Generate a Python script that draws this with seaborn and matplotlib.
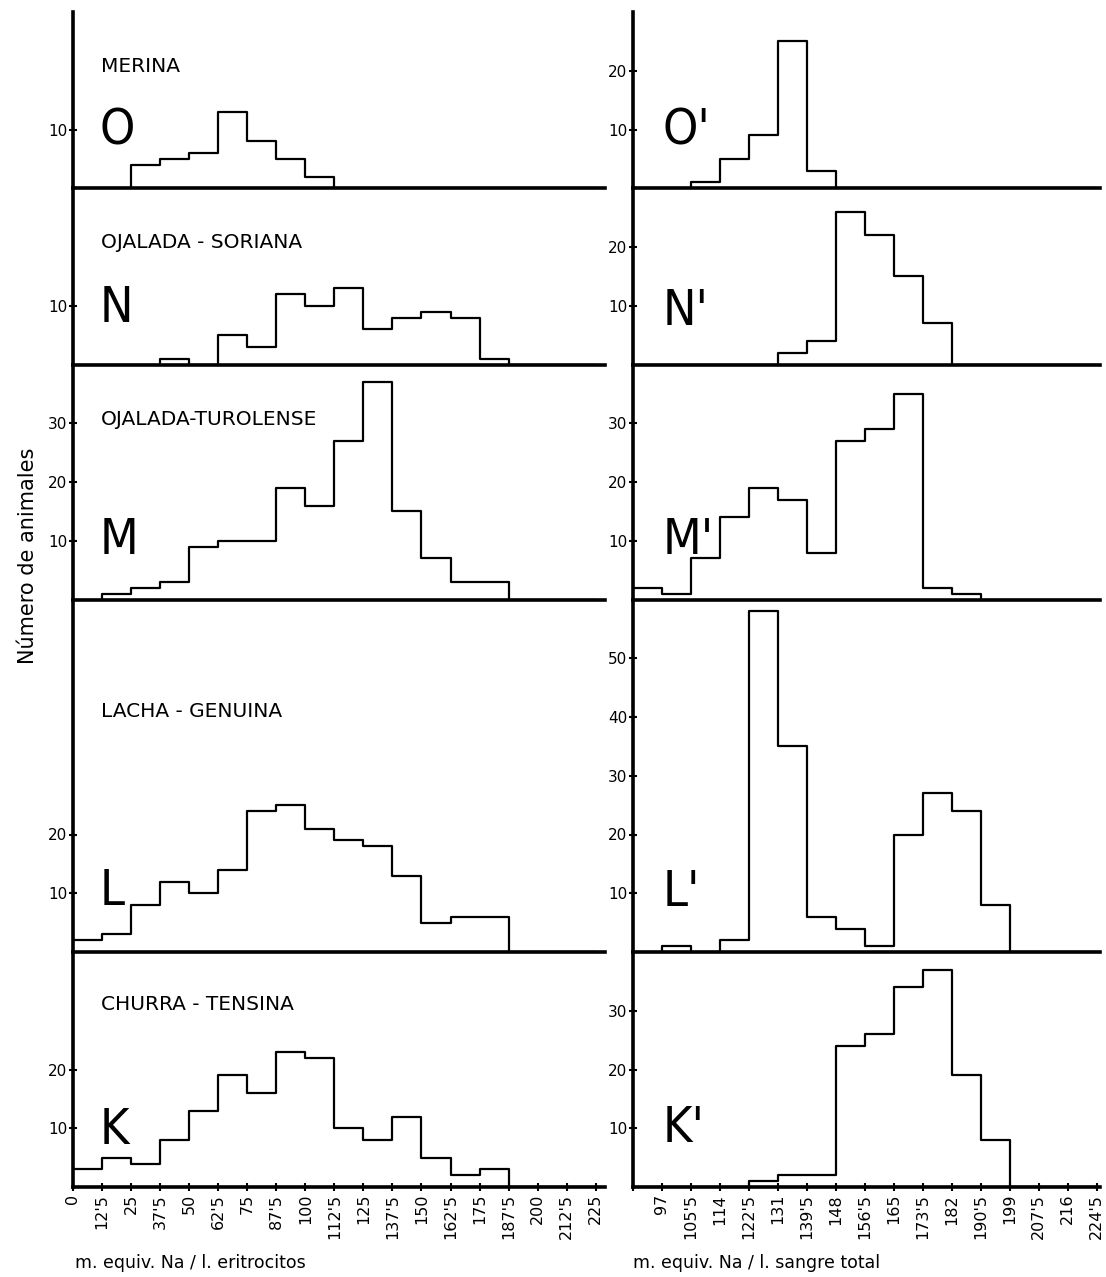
import numpy as np
import pandas as pd
import matplotlib
matplotlib.use("Agg")
import matplotlib.pyplot as plt
from matplotlib.gridspec import GridSpec
import seaborn as sns

sns.set_theme(style="white")
plt.rcParams["font.family"] = ["DejaVu Sans"]

# Class limits, sodium in red cells (m. equiv. Na / l.)
eritro_ticks = [0, 12.5, 25, 37.5, 50, 62.5, 75, 87.5, 100, 112.5, 125,
                137.5, 150, 162.5, 175, 187.5, 200, 212.5, 225]
eritro_labels = ["0", "12'5", "25", "37'5", "50", "62'5", "75", "87'5", "100",
                 "112'5", "125", "137'5", "150", "162'5", "175", "187'5",
                 "200", "212'5", "225"]

# Class limits, sodium in whole blood (m. equiv. Na / l.)
sangre_ticks = [88.5, 97, 105.5, 114, 122.5, 131, 139.5, 148, 156.5, 165,
                173.5, 182, 190.5, 199, 207.5, 216, 224.5]
sangre_labels = ["", "97", "105'5", "114", "122'5", "131", "139'5", "148",
                 "156'5", "165", "173'5", "182", "190'5", "199", "207'5",
                 "216", "224'5"]

breeds = ["MERINA", "OJALADA - SORIANA", "OJALADA-TUROLENSE",
          "LACHA - GENUINA", "CHURRA - TENSINA"]
letters = ["O", "N", "M", "L", "K"]

# Number of animals per class - erythrocytes
eritro_merina = [0, 0, 4, 5, 6, 13, 8, 5, 2, 0, 0, 0, 0, 0, 0, 0, 0, 0]
eritro_soriana = [0, 0, 0, 1, 0, 5, 3, 12, 10, 13, 6, 8, 9, 8, 1, 0, 0, 0]
eritro_turolense = [0, 1, 2, 3, 9, 10, 10, 19, 16, 27, 37, 15, 7, 3, 3, 0, 0, 0]
eritro_lacha = [2, 3, 8, 12, 10, 14, 24, 25, 21, 19, 18, 13, 5, 6, 6, 0, 0, 0]
eritro_churra = [3, 5, 4, 8, 13, 19, 16, 23, 22, 10, 8, 12, 5, 2, 3, 0, 0, 0]

# Number of animals per class - whole blood
sangre_merina = [0, 0, 1, 5, 9, 25, 3, 0, 0, 0, 0, 0, 0, 0, 0, 0]
sangre_soriana = [0, 0, 0, 0, 0, 2, 4, 26, 22, 15, 7, 0, 0, 0, 0, 0]
sangre_turolense = [2, 1, 7, 14, 19, 17, 8, 27, 29, 35, 2, 1, 0, 0, 0, 0]
sangre_lacha = [0, 1, 0, 2, 58, 35, 6, 4, 1, 20, 27, 24, 8, 0, 0, 0]
sangre_churra = [0, 0, 0, 0, 1, 2, 2, 24, 26, 34, 37, 19, 8, 0, 0, 0]

eritro_counts = [eritro_merina, eritro_soriana, eritro_turolense,
                 eritro_lacha, eritro_churra]
sangre_counts = [sangre_merina, sangre_soriana, sangre_turolense,
                 sangre_lacha, sangre_churra]

y_max = [30, 30, 40, 60, 40]
eritro_yticks = [[10], [10], [10, 20, 30], [10, 20], [10, 20]]
sangre_yticks = [[10, 20], [10, 20], [10, 20, 30], [10, 20, 30, 40, 50], [10, 20, 30]]

W, H = 1106, 1277
fig = plt.figure(figsize=(W / 100, H / 100), dpi=100)
top = 1 - 12 / H
bottom = 1 - 1187 / H
gs_l = GridSpec(5, 1, figure=fig, left=73 / W, right=605 / W, top=top,
                bottom=bottom, hspace=0, height_ratios=y_max)
gs_r = GridSpec(5, 1, figure=fig, left=633 / W, right=1100 / W, top=top,
                bottom=bottom, hspace=0, height_ratios=y_max)

# baseline of the panel letters and breed names (data units)
eritro_letter_y = [7.4, 7.2, 7.8, 8.0, 7.4]
sangre_letter_y = [7.4, 6.8, 7.8, 7.8, 7.6]
breed_label_y = [19.8, 19.8, 29.7, 40.0, 30.1]

letter_style = dict(fontsize=36, ha="left", va="baseline", color="black",
                    family="DejaVu Sans", fontstretch="condensed")


def draw_panel(ax, edges, counts, xlim, ymax, yticks, is_bottom):
    edge_arr = np.asarray(edges, dtype=float)
    centers = (edge_arr[:-1] + edge_arr[1:]) / 2
    df = pd.DataFrame({"na": centers, "n": np.asarray(counts, dtype=float)})
    sns.histplot(data=df, x="na", weights="n", bins=list(edges),
                 element="step", fill=False, color="black", linewidth=1.6,
                 ax=ax)
    ax.set_xlim(*xlim)
    ax.set_ylim(0, ymax)
    ax.set_xlabel("")
    ax.set_ylabel("")
    ax.set_facecolor("none")
    for side in ("top", "right"):
        ax.spines[side].set_visible(False)
    for side in ("left", "bottom"):
        ax.spines[side].set_color("black")
        ax.spines[side].set_linewidth(2.6)
    ax.set_yticks(yticks)
    ax.set_yticklabels([str(t) for t in yticks])
    ax.tick_params(axis="y", direction="inout", length=6, width=1.5,
                   colors="black", labelsize=11, pad=1, left=True)
    if not is_bottom:
        ax.set_xticks([])
    ax.grid(False)


for i in range(5):
    axl = fig.add_subplot(gs_l[i])
    draw_panel(axl, eritro_ticks, eritro_counts[i], (0, 229), y_max[i],
               eritro_yticks[i], i == 4)
    axl.text(12.0, breed_label_y[i], breeds[i], fontsize=14.5, ha="left",
             va="baseline", color="black")
    axl.text(11.5, eritro_letter_y[i], letters[i], **letter_style)

    axr = fig.add_subplot(gs_r[i])
    draw_panel(axr, sangre_ticks, sangre_counts[i], (88.5, 225.5), y_max[i],
               sangre_yticks[i], i == 4)
    axr.text(97.3, sangre_letter_y[i], letters[i] + "'", **letter_style)

    if i == 4:
        axl.set_xticks(eritro_ticks)
        axl.set_xticklabels(eritro_labels, rotation=90)
        axl.tick_params(axis="x", direction="inout", length=6, width=1.5,
                        colors="black", labelsize=11.5, pad=2, bottom=True)
        axr.set_xticks(sangre_ticks)
        axr.set_xticklabels(sangre_labels, rotation=90)
        axr.tick_params(axis="x", direction="inout", length=6, width=1.5,
                        colors="black", labelsize=11.5, pad=2, bottom=True)

fig.text(75 / W, 1 - 1263 / H, "m. equiv. Na / l. eritrocitos", fontsize=12.5,
         ha="left", va="center", color="black")
fig.text(633 / W, 1 - 1263 / H, "m. equiv. Na / l. sangre total", fontsize=12.5,
         ha="left", va="center", color="black")
fig.text(28 / W, 1 - 556 / H, "Número de animales", fontsize=15, rotation=90,
         ha="center", va="center", color="black")

fig.savefig("out.png", dpi=100, facecolor="white")
